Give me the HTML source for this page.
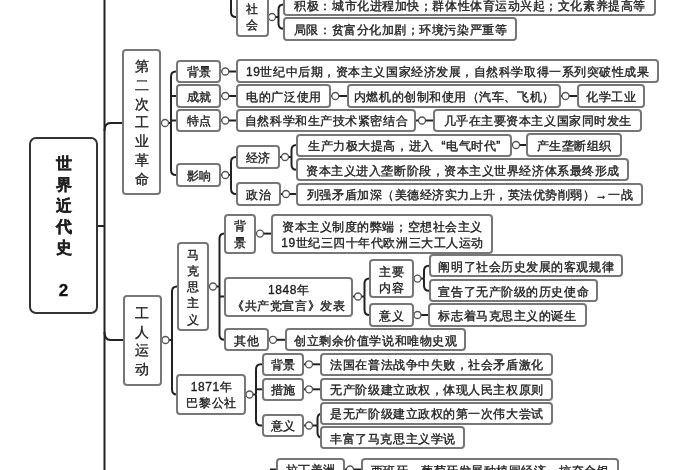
<!DOCTYPE html>
<html><head><meta charset="utf-8"><style>
html,body{margin:0;padding:0;background:#fff;width:700px;height:470px;overflow:hidden;position:relative;}
body{font-family:"Liberation Sans",sans-serif;color:#333;}
.b{position:absolute;box-sizing:border-box;border:2px solid #777;border-radius:4px;background:#fff;display:flex;align-items:center;justify-content:center;text-align:center;font-size:12px;letter-spacing:0.55px;padding-left:0.55px;line-height:16px;white-space:nowrap;-webkit-text-stroke:0.35px #222;color:#222;padding-top:2px;}
.v{line-height:16.3px;}
.vb{font-size:14px;line-height:18.7px;letter-spacing:0;padding-left:0;padding-top:2px;}
.t2{line-height:16px;}
.root{border:2px solid #333;border-radius:7px;font-weight:bold;font-size:16px;line-height:21px;padding-left:1px;padding-top:2px;color:#111;}
svg{position:absolute;left:0;top:0;}
#w{position:absolute;left:0;top:0;width:700px;height:470px;filter:grayscale(1) blur(0.4px);}
</style></head><body><div id="w">

<svg width="700" height="470" viewBox="0 0 700 470">
<path d="M104.5,0 V470" fill="none" stroke="#222" stroke-width="2"/>
<path d="M97,226 H104.5" fill="none" stroke="#222" stroke-width="2"/>
<path d="M104.5,131 Q104.5,123 110.5,123 H124" fill="none" stroke="#222" stroke-width="2"/>
<path d="M104.5,332 Q104.5,340 110.5,340 H124" fill="none" stroke="#222" stroke-width="2"/>
<path d="M231,0 V12 Q231,17 236,17 H237" fill="none" stroke="#222" stroke-width="2"/>
<path d="M267.5,17 H268.6" fill="none" stroke="#222" stroke-width="2"/>
<path d="M275.4,17 H278.5" fill="none" stroke="#222" stroke-width="2"/>
<path d="M278.5,17 V9.5 Q278.5,4.5 283.5,4.5 H284.6" fill="none" stroke="#222" stroke-width="2"/>
<path d="M278.5,17 V23.8 Q278.5,28.8 283.5,28.8 H284.6" fill="none" stroke="#222" stroke-width="2"/>
<path d="M160,123 H161.6" fill="none" stroke="#222" stroke-width="2"/>
<path d="M168.4,123 H171" fill="none" stroke="#222" stroke-width="2"/>
<path d="M171,96 H177.6" fill="none" stroke="#222" stroke-width="2"/>
<path d="M171,120.5 H177.6" fill="none" stroke="#222" stroke-width="2"/>
<path d="M171,123 V76.5 Q171,71.5 176,71.5 H177.6" fill="none" stroke="#222" stroke-width="2"/>
<path d="M171,123 V170 Q171,175 176,175 H177.6" fill="none" stroke="#222" stroke-width="2"/>
<path d="M220,71.5 H221.9" fill="none" stroke="#222" stroke-width="2"/>
<path d="M228.70000000000002,71.5 H237.5" fill="none" stroke="#222" stroke-width="2"/>
<path d="M220,96 H221.9" fill="none" stroke="#222" stroke-width="2"/>
<path d="M228.70000000000002,96 H237.5" fill="none" stroke="#222" stroke-width="2"/>
<path d="M330,96 H331.90000000000003" fill="none" stroke="#222" stroke-width="2"/>
<path d="M338.7,96 H348" fill="none" stroke="#222" stroke-width="2"/>
<path d="M560,96 H562.1" fill="none" stroke="#222" stroke-width="2"/>
<path d="M568.9,96 H578" fill="none" stroke="#222" stroke-width="2"/>
<path d="M220,120.5 H221.9" fill="none" stroke="#222" stroke-width="2"/>
<path d="M228.70000000000002,120.5 H237.5" fill="none" stroke="#222" stroke-width="2"/>
<path d="M415,120.5 H418.6" fill="none" stroke="#222" stroke-width="2"/>
<path d="M425.4,120.5 H434.5" fill="none" stroke="#222" stroke-width="2"/>
<path d="M220,175 H221.9" fill="none" stroke="#222" stroke-width="2"/>
<path d="M228.70000000000002,175 H231" fill="none" stroke="#222" stroke-width="2"/>
<path d="M231,175 V162 Q231,157 236,157 H237" fill="none" stroke="#222" stroke-width="2"/>
<path d="M231,175 V189 Q231,194 236,194 H237" fill="none" stroke="#222" stroke-width="2"/>
<path d="M279,157 H281.6" fill="none" stroke="#222" stroke-width="2"/>
<path d="M288.4,157 H291.5" fill="none" stroke="#222" stroke-width="2"/>
<path d="M291.5,157 V150 Q291.5,145 296.5,145 H297.5" fill="none" stroke="#222" stroke-width="2"/>
<path d="M291.5,157 V164.7 Q291.5,169.7 296.5,169.7 H297.5" fill="none" stroke="#222" stroke-width="2"/>
<path d="M511,145 H512.6" fill="none" stroke="#222" stroke-width="2"/>
<path d="M519.4,145 H527.5" fill="none" stroke="#222" stroke-width="2"/>
<path d="M279.5,194 H282.6" fill="none" stroke="#222" stroke-width="2"/>
<path d="M289.4,194 H297.5" fill="none" stroke="#222" stroke-width="2"/>
<path d="M160.4,340 H162.1" fill="none" stroke="#222" stroke-width="2"/>
<path d="M168.9,340 H172" fill="none" stroke="#222" stroke-width="2"/>
<path d="M172,340 V291.5 Q172,286.5 177,286.5 H177.7" fill="none" stroke="#222" stroke-width="2"/>
<path d="M172,340 V389.5 Q172,394.5 177,394.5 H177.7" fill="none" stroke="#222" stroke-width="2"/>
<path d="M207.5,286.5 H209.6" fill="none" stroke="#222" stroke-width="2"/>
<path d="M216.4,286.5 H219.5" fill="none" stroke="#222" stroke-width="2"/>
<path d="M219.5,296.5 H225" fill="none" stroke="#222" stroke-width="2"/>
<path d="M219.5,286.5 V238.6 Q219.5,233.6 224.5,233.6 H225" fill="none" stroke="#222" stroke-width="2"/>
<path d="M219.5,286.5 V334.8 Q219.5,339.8 224.5,339.8 H225" fill="none" stroke="#222" stroke-width="2"/>
<path d="M254.5,233.6 H256.6" fill="none" stroke="#222" stroke-width="2"/>
<path d="M263.4,233.6 H272.5" fill="none" stroke="#222" stroke-width="2"/>
<path d="M352,296.5 H354.6" fill="none" stroke="#222" stroke-width="2"/>
<path d="M361.4,296.5 H364.5" fill="none" stroke="#222" stroke-width="2"/>
<path d="M364.5,296.5 V283.6 Q364.5,278.6 369.5,278.6 H370.5" fill="none" stroke="#222" stroke-width="2"/>
<path d="M364.5,296.5 V310 Q364.5,315 369.5,315 H370.5" fill="none" stroke="#222" stroke-width="2"/>
<path d="M412.5,278.6 H414.1" fill="none" stroke="#222" stroke-width="2"/>
<path d="M420.9,278.6 H424" fill="none" stroke="#222" stroke-width="2"/>
<path d="M424,278.6 V270.75 Q424,265.75 429,265.75 H430" fill="none" stroke="#222" stroke-width="2"/>
<path d="M424,278.6 V285.75 Q424,290.75 429,290.75 H430" fill="none" stroke="#222" stroke-width="2"/>
<path d="M412.5,315 H414.1" fill="none" stroke="#222" stroke-width="2"/>
<path d="M420.9,315 H429" fill="none" stroke="#222" stroke-width="2"/>
<path d="M267.8,339.8 H269.6" fill="none" stroke="#222" stroke-width="2"/>
<path d="M276.4,339.8 H286" fill="none" stroke="#222" stroke-width="2"/>
<path d="M245,394.5 H246.1" fill="none" stroke="#222" stroke-width="2"/>
<path d="M252.9,394.5 H256" fill="none" stroke="#222" stroke-width="2"/>
<path d="M256,389.3 H263" fill="none" stroke="#222" stroke-width="2"/>
<path d="M256,394.5 V369.3 Q256,364.3 261,364.3 H263" fill="none" stroke="#222" stroke-width="2"/>
<path d="M256,394.5 V420.5 Q256,425.5 261,425.5 H263" fill="none" stroke="#222" stroke-width="2"/>
<path d="M303,364.3 H305.6" fill="none" stroke="#222" stroke-width="2"/>
<path d="M312.4,364.3 H321.5" fill="none" stroke="#222" stroke-width="2"/>
<path d="M303,389.3 H305.6" fill="none" stroke="#222" stroke-width="2"/>
<path d="M312.4,389.3 H321.5" fill="none" stroke="#222" stroke-width="2"/>
<path d="M303,425.5 H305.6" fill="none" stroke="#222" stroke-width="2"/>
<path d="M312.4,425.5 H317.5" fill="none" stroke="#222" stroke-width="2"/>
<path d="M317.5,425.5 V418.5 Q317.5,413.5 322.5,413.5 H321.5" fill="none" stroke="#222" stroke-width="2"/>
<path d="M317.5,425.5 V432.8 Q317.5,437.8 322.5,437.8 H321.5" fill="none" stroke="#222" stroke-width="2"/>
<path d="M270,469.5 H277" fill="none" stroke="#222" stroke-width="2"/>
<path d="M344,469.5 H346.6" fill="none" stroke="#222" stroke-width="2"/>
<path d="M353.4,469.5 H361.7" fill="none" stroke="#222" stroke-width="2"/>
<circle cx="272" cy="17" r="3.5" fill="#fff" stroke="#555" stroke-width="1.3"/>
<circle cx="165" cy="123" r="3.5" fill="#fff" stroke="#555" stroke-width="1.3"/>
<circle cx="225.3" cy="71.5" r="3.5" fill="#fff" stroke="#555" stroke-width="1.3"/>
<circle cx="225.3" cy="96" r="3.5" fill="#fff" stroke="#555" stroke-width="1.3"/>
<circle cx="335.3" cy="96" r="3.5" fill="#fff" stroke="#555" stroke-width="1.3"/>
<circle cx="565.5" cy="96" r="3.5" fill="#fff" stroke="#555" stroke-width="1.3"/>
<circle cx="225.3" cy="120.5" r="3.5" fill="#fff" stroke="#555" stroke-width="1.3"/>
<circle cx="422" cy="120.5" r="3.5" fill="#fff" stroke="#555" stroke-width="1.3"/>
<circle cx="225.3" cy="175" r="3.5" fill="#fff" stroke="#555" stroke-width="1.3"/>
<circle cx="285" cy="157" r="3.5" fill="#fff" stroke="#555" stroke-width="1.3"/>
<circle cx="516" cy="145" r="3.5" fill="#fff" stroke="#555" stroke-width="1.3"/>
<circle cx="286" cy="194" r="3.5" fill="#fff" stroke="#555" stroke-width="1.3"/>
<circle cx="165.5" cy="340" r="3.5" fill="#fff" stroke="#555" stroke-width="1.3"/>
<circle cx="213" cy="286.5" r="3.5" fill="#fff" stroke="#555" stroke-width="1.3"/>
<circle cx="260" cy="233.6" r="3.5" fill="#fff" stroke="#555" stroke-width="1.3"/>
<circle cx="358" cy="296.5" r="3.5" fill="#fff" stroke="#555" stroke-width="1.3"/>
<circle cx="417.5" cy="278.6" r="3.5" fill="#fff" stroke="#555" stroke-width="1.3"/>
<circle cx="417.5" cy="315" r="3.5" fill="#fff" stroke="#555" stroke-width="1.3"/>
<circle cx="273" cy="339.8" r="3.5" fill="#fff" stroke="#555" stroke-width="1.3"/>
<circle cx="249.5" cy="394.5" r="3.5" fill="#fff" stroke="#555" stroke-width="1.3"/>
<circle cx="309" cy="364.3" r="3.5" fill="#fff" stroke="#555" stroke-width="1.3"/>
<circle cx="309" cy="389.3" r="3.5" fill="#fff" stroke="#555" stroke-width="1.3"/>
<circle cx="309" cy="425.5" r="3.5" fill="#fff" stroke="#555" stroke-width="1.3"/>
<circle cx="350" cy="469.5" r="3.5" fill="#fff" stroke="#555" stroke-width="1.3"/>
</svg>
<div class="b root" style="left:28.5px;top:136.5px;width:69.6px;height:177.5px"><div>世<br>界<br>近<br>代<br>史<br><br><span style="font-size:17px;position:relative;top:1.5px">2</span></div></div>
<div class="b v" style="left:235.8px;top:-4.2px;width:32.89999999999998px;height:40.900000000000006px">社<br>会</div>
<div class="b" style="left:283.4px;top:-6.7px;width:372.80000000000007px;height:23.099999999999998px">积极：城市化进程加快；群体性体育运动兴起；文化素养提高等</div>
<div class="b" style="left:283.4px;top:17.3px;width:233.80000000000007px;height:23.900000000000002px">局限：贫富分化加剧；环境污染严重等</div>
<div class="b vb" style="left:122.3px;top:48.8px;width:38.89999999999999px;height:145.89999999999998px">第<br>二<br>次<br>工<br>业<br>革<br>命</div>
<div class="b" style="left:176.4px;top:59.5px;width:44.79999999999998px;height:23.700000000000003px">背景</div>
<div class="b" style="left:176.4px;top:84.1px;width:44.79999999999998px;height:23.60000000000001px">成就</div>
<div class="b" style="left:176.4px;top:108.8px;width:44.79999999999998px;height:23.39999999999999px">特点</div>
<div class="b" style="left:176.4px;top:163.3px;width:44.79999999999998px;height:23.399999999999977px">影响</div>
<div class="b" style="left:236.3px;top:59.3px;width:422.40000000000003px;height:23.900000000000006px">19世纪中后期，资本主义国家经济发展，自然科学取得一系列突破性成果</div>
<div class="b" style="left:236.3px;top:84.3px;width:94.89999999999998px;height:23.900000000000006px">电的广泛使用</div>
<div class="b" style="left:346.8px;top:84.3px;width:214.40000000000003px;height:23.900000000000006px">内燃机的创制和使用（汽车、飞机）</div>
<div class="b" style="left:576.8px;top:84.3px;width:68.40000000000009px;height:23.900000000000006px">化学工业</div>
<div class="b" style="left:236.3px;top:108.8px;width:179.89999999999998px;height:23.39999999999999px">自然科学和生产技术紧密结合</div>
<div class="b" style="left:433.3px;top:108.8px;width:208.40000000000003px;height:23.39999999999999px">几乎在主要资本主义国家同时发生</div>
<div class="b" style="left:235.8px;top:144.8px;width:44.39999999999998px;height:24.399999999999977px">经济</div>
<div class="b" style="left:235.8px;top:182.3px;width:44.89999999999998px;height:23.399999999999977px">政治</div>
<div class="b" style="left:296.3px;top:133.8px;width:215.90000000000003px;height:22.899999999999977px"><div>生产力极大提高，进入<span style="margin-left:8px">“</span>电气时代”</div></div>
<div class="b" style="left:296.3px;top:158.3px;width:332.90000000000003px;height:22.899999999999977px">资本主义进入垄断阶段，资本主义世界经济体系最终形成</div>
<div class="b" style="left:526.3px;top:133.3px;width:95.40000000000009px;height:23.399999999999977px">产生垄断组织</div>
<div class="b" style="left:296.3px;top:182.8px;width:346.90000000000003px;height:23.399999999999977px">列强矛盾加深（美德经济实力上升，英法优势削弱）→一战</div>
<div class="b vb" style="left:122.8px;top:295.3px;width:38.8px;height:90.39999999999998px">工<br>人<br>运<br>动</div>
<div class="b v" style="left:176.5px;top:241.8px;width:32.19999999999999px;height:88.89999999999998px">马<br>克<br>思<br>主<br>义</div>
<div class="b t2" style="left:176.3px;top:374.1px;width:69.89999999999998px;height:40.69999999999999px">1871年<br>巴黎公社</div>
<div class="b v" style="left:223.8px;top:213.5px;width:31.899999999999977px;height:40.19999999999999px">背<br>景</div>
<div class="b t2" style="left:223.8px;top:276.5px;width:129.39999999999998px;height:40.10000000000002px">1848年<br>《共产党宣言》发表</div>
<div class="b" style="left:223.8px;top:328.3px;width:45.19999999999999px;height:22.899999999999977px">其他</div>
<div class="b t2" style="left:271.3px;top:213.8px;width:221.89999999999998px;height:39.89999999999998px">资本主义制度的弊端；空想社会主义<br>19世纪三四十年代欧洲三大工人运动</div>
<div class="b t2" style="left:369.3px;top:258.8px;width:44.39999999999998px;height:39.599999999999966px">主要<br>内容</div>
<div class="b" style="left:369.3px;top:303.1px;width:44.39999999999998px;height:23.599999999999966px">意义</div>
<div class="b" style="left:428.8px;top:254.3px;width:194.40000000000003px;height:22.899999999999977px">阐明了社会历史发展的客观规律</div>
<div class="b" style="left:428.8px;top:279.3px;width:169.40000000000003px;height:22.899999999999977px">宣告了无产阶级的历史使命</div>
<div class="b" style="left:427.8px;top:303.3px;width:158.90000000000003px;height:23.399999999999977px">标志着马克思主义的诞生</div>
<div class="b" style="left:284.8px;top:328.3px;width:181.39999999999998px;height:22.899999999999977px">创立剩余价值学说和唯物史观</div>
<div class="b" style="left:261.8px;top:352.8px;width:42.39999999999998px;height:22.899999999999977px">背景</div>
<div class="b" style="left:261.8px;top:377.8px;width:42.39999999999998px;height:22.899999999999977px">措施</div>
<div class="b" style="left:261.8px;top:413.8px;width:42.39999999999998px;height:23.399999999999977px">意义</div>
<div class="b" style="left:320.3px;top:352.8px;width:232.90000000000003px;height:22.899999999999977px">法国在普法战争中失败，社会矛盾激化</div>
<div class="b" style="left:320.3px;top:377.8px;width:232.90000000000003px;height:23.399999999999977px">无产阶级建立政权，体现人民主权原则</div>
<div class="b" style="left:320.3px;top:401.8px;width:232.90000000000003px;height:23.399999999999977px">是无产阶级建立政权的第一次伟大尝试</div>
<div class="b" style="left:320.3px;top:426.3px;width:144.89999999999998px;height:22.899999999999977px">丰富了马克思主义学说</div>
<div class="b" style="left:275.8px;top:457.8px;width:69.39999999999998px;height:23.399999999999977px">拉丁美洲</div>
<div class="b" style="left:360.5px;top:458.3px;width:258.70000000000005px;height:23.899999999999977px">西班牙、葡萄牙发展种植园经济，掠夺金银</div>
</div></body></html>
